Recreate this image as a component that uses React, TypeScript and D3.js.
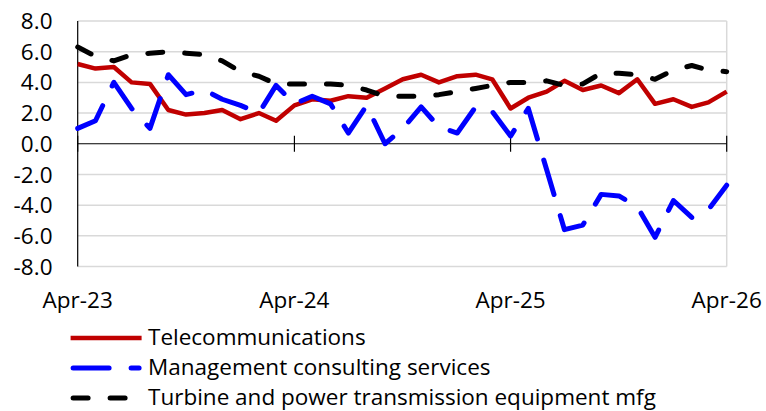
import React from "react";
import * as d3 from "d3";

const months: string[] = [
  "2023-04","2023-05","2023-06","2023-07","2023-08","2023-09","2023-10","2023-11","2023-12",
  "2024-01","2024-02","2024-03","2024-04","2024-05","2024-06","2024-07","2024-08","2024-09",
  "2024-10","2024-11","2024-12","2025-01","2025-02","2025-03","2025-04","2025-05","2025-06",
  "2025-07","2025-08","2025-09","2025-10","2025-11","2025-12","2026-01","2026-02","2026-03","2026-04",
];

const telecom: number[] = [
  5.2, 4.9, 5.0, 4.0, 3.9, 2.2, 1.9, 2.0, 2.2, 1.6, 2.0, 1.5,
  2.5, 2.9, 2.8, 3.1, 3.0, 3.6, 4.2, 4.5, 4.0, 4.4, 4.5, 4.2,
  2.3, 3.0, 3.4, 4.1, 3.5, 3.8, 3.3, 4.2, 2.6, 2.9, 2.4, 2.7, 3.4,
];

const consulting: number[] = [
  1.0, 1.5, 4.0, 2.3, 1.0, 4.5, 3.2, 3.5, 2.9, 2.5, 2.0, 3.8,
  2.6, 3.1, 2.6, 0.7, 2.5, 0.0, 1.0, 2.4, 1.1, 0.7, 2.4, 2.1,
  0.5, 2.3, -1.7, -5.6, -5.3, -3.3, -3.4, -4.1, -6.1, -3.7, -4.8, -4.3, -2.7,
];

const turbine: number[] = [
  6.3, 5.7, 5.4, 5.8, 5.9, 6.0, 5.9, 5.8, 5.4, 4.7, 4.4, 3.9,
  3.9, 3.9, 3.9, 3.8, 3.5, 3.1, 3.1, 3.1, 3.2, 3.4, 3.6, 3.8,
  4.0, 4.0, 4.1, 3.8, 3.9, 4.6, 4.6, 4.5, 4.2, 4.8, 5.1, 4.8, 4.7,
];

const yTicks: number[] = [-8, -6, -4, -2, 0, 2, 4, 6, 8];
const xTickLabels: string[] = ["Apr-23", "Apr-24", "Apr-25", "Apr-26"];
const xTickDates: string[] = ["2023-04", "2024-04", "2025-04", "2026-04"];

const seriesNames: string[] = [
  "Telecommunications",
  "Management consulting services",
  "Turbine and power transmission equipment mfg",
];

const parse = d3.timeParse("%Y-%m");
const FONT = "'Open Sans', 'Noto Sans', sans-serif";

export default function App() {
  const W = 766, H = 411;
  const left = 77.7, right = 726.7, top = 21, bottom = 266.5;
  const dates = months.map((m) => parse(m) as Date);
  const x = d3.scaleTime().domain([dates[0], dates[dates.length - 1]]).range([left, right]);
  const y = d3.scaleLinear().domain([-8, 8]).range([bottom, top]);

  const mk = (vals: number[]) =>
    d3.line<number>().x((_, i) => x(dates[i])).y((v) => y(v))(vals) || "";

  const series = [
    { name: seriesNames[0], vals: telecom, color: "#C00000", width: 4.5, dash: undefined as string | undefined, cap: "butt" },
    { name: seriesNames[1], vals: consulting, color: "#0000FF", width: 5, dash: "36 22", cap: "round" },
    { name: seriesNames[2], vals: turbine, color: "#000000", width: 5, dash: "15 22", cap: "round" },
  ];

  return (
    <svg width={W} height={H} style={{ position: "absolute", left: 0, top: 0, background: "#fff" }}>
      {yTicks.filter((t) => t !== 0).map((t) => (
        <line key={t} x1={left} x2={right} y1={y(t)} y2={y(t)} stroke="#d9d9d9" strokeWidth={1.5} />
      ))}
      <line x1={right} x2={right} y1={top} y2={bottom} stroke="#d9d9d9" strokeWidth={1.5} />
      <line x1={left} x2={left} y1={top} y2={bottom} stroke="#000" strokeWidth={1.2} />
      <line x1={left} x2={right} y1={y(0)} y2={y(0)} stroke="#000" strokeWidth={1.2} />
      {xTickDates.map((d) => (
        <line key={d} x1={x(parse(d) as Date)} x2={x(parse(d) as Date)} y1={y(0) - 8} y2={y(0) + 8} stroke="#000" strokeWidth={1.2} />
      ))}
      {yTicks.map((t) => (
        <text key={t} x={52.5} y={y(t)} dy="0.36em" textAnchor="end" fontFamily={FONT} fontSize={22.5} fill="#000">
          {t.toFixed(1)}
        </text>
      ))}
      {xTickDates.map((d, i) => (
        <text key={d} x={x(parse(d) as Date)} y={308} textAnchor="middle" fontFamily={FONT} fontSize={22.5} fill="#000">
          {xTickLabels[i]}
        </text>
      ))}
      {series.map((s) => (
        <path key={s.name} d={mk(s.vals)} fill="none" stroke={s.color} strokeWidth={s.width}
          strokeDasharray={s.dash} strokeLinecap={s.cap as any} strokeLinejoin="round" />
      ))}
      {series.map((s, i) => {
        const ly = 338 + i * 30;
        const x1 = i === 0 ? 70.6 : 73.1;
        const x2 = i === 0 ? 141.6 : i === 1 ? 139.1 : 131;
        return (
          <g key={s.name}>
            <line x1={x1} x2={x2} y1={ly} y2={ly}
              stroke={s.color} strokeWidth={s.width} strokeDasharray={s.dash} strokeLinecap={s.cap as any} />
            <text x={148} y={ly} dy="0.31em" fontFamily={FONT} fontSize={22.5} fill="#000">{s.name}</text>
          </g>
        );
      })}
    </svg>
  );
}
